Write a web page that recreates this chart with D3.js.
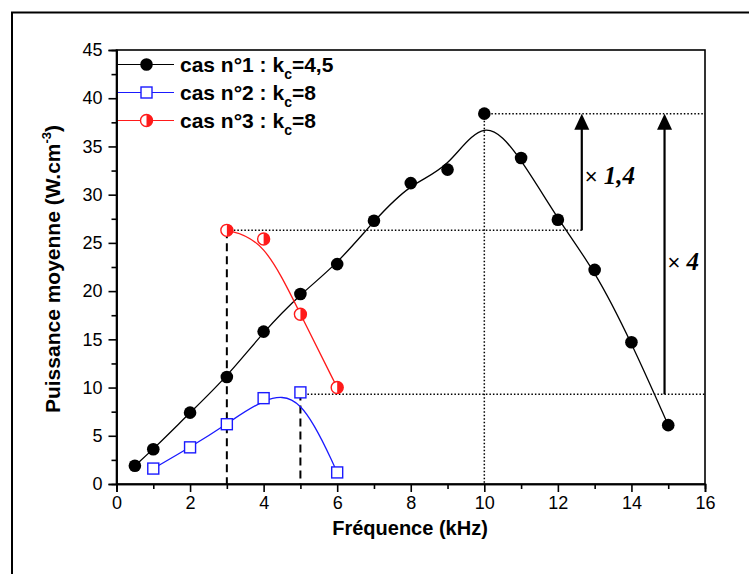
<!DOCTYPE html>
<html><head><meta charset="utf-8">
<script src="https://cdn.jsdelivr.net/npm/d3@7"></script>
<style>body{margin:0;background:#fff}svg{display:block}</style>
</head><body><div id="c"></div>
<script>
// Data
const x1 = [0.5,1,2,3,4,5,6,7,8,9,10,11,12,13,14,15];
const y1 = [1.9,3.6,7.4,11.1,15.8,19.7,22.8,27.3,31.2,32.6,38.4,33.8,27.4,22.2,14.7,6.1];
const x2 = [1,2,3,4,5,6];
const y2 = [1.6,3.8,6.2,8.9,9.5,1.2];
const x3 = [3,4,5,6];
const y3 = [26.3,25.4,17.6,10.0];
const seriesNames = ["cas n°1 : k","cas n°2 : k","cas n°3 : k"];
const seriesSuffix = ["=4,5","=8","=8"];
const xTicks = [0,2,4,6,8,10,12,14,16];
const yTicks = [0,5,10,15,20,25,30,35,40,45];
const refMax = 38.4, refMid = 26.3, refLow = 9.3;
const arrowX1 = 12.65, arrowX2 = 14.9;

const W=749,H=574;
const L=116.5,R=705,T=50,B=484;
const svg=d3.select("#c").append("svg").attr("width",W).attr("height",H);
const x=d3.scaleLinear().domain([0,16]).range([L,R]);
const y=d3.scaleLinear().domain([0,45]).range([B,T]);

// outer border (top & left)
svg.append("path").attr("d",`M12,574 L12,12.5 L749,12.5`).attr("fill","none").attr("stroke","#000").attr("stroke-width",2);

// frame
svg.append("rect").attr("x",L).attr("y",T).attr("width",R-L).attr("height",B-T).attr("fill","none").attr("stroke","#000").attr("stroke-width",1.6);

// axes
const font="Liberation Sans, Arial, sans-serif";
const xa=svg.append("g").attr("transform",`translate(0,${B})`).call(d3.axisBottom(x).tickValues(xTicks).tickSize(8).tickFormat(d3.format("d")));
const xm=svg.append("g").attr("transform",`translate(0,${B})`).call(d3.axisBottom(x).tickValues(d3.range(1,16,2)).tickSize(5).tickFormat(""));
const ya=svg.append("g").attr("transform",`translate(${L},0)`).call(d3.axisLeft(y).tickValues(yTicks).tickSize(8).tickFormat(d3.format("d")));
const ym=svg.append("g").attr("transform",`translate(${L},0)`).call(d3.axisLeft(y).tickValues(d3.range(2.5,45,5)).tickSize(5).tickFormat(""));
[xa,xm,ya,ym].forEach(g=>{g.select(".domain").attr("stroke","#000").attr("stroke-width",1.6);g.selectAll(".tick line").attr("stroke","#000").attr("stroke-width",1.6);});
xa.selectAll("text").attr("font-family",font).attr("font-size",18).attr("fill","#000").attr("y",12).attr("dy","0.71em");
ya.selectAll("text").attr("font-family",font).attr("font-size",18).attr("fill","#000").attr("x",-14);

// axis titles
svg.append("text").attr("x",410).attr("y",535).attr("text-anchor","middle").attr("font-family",font).attr("font-weight","bold").attr("font-size",20).text("Fréquence (kHz)");
const yl=svg.append("text").attr("transform",`translate(60,${(T+B)/2+2}) rotate(-90)`).attr("text-anchor","middle").attr("font-family",font).attr("font-weight","bold").attr("font-size",21);
yl.append("tspan").text("Puissance moyenne (W.cm");
yl.append("tspan").attr("font-size",13).attr("dy",-9).text("-3");
yl.append("tspan").attr("dy",9).text(")");

// reference lines
const dotted=(x0,y0,x1_,y1_)=>svg.append("line").attr("x1",x(x0)).attr("y1",y(y0)).attr("x2",x(x1_)).attr("y2",y(y1_)).attr("stroke","#000").attr("stroke-width",1.5).attr("stroke-dasharray","1.5,2");
dotted(10,refMax,16,refMax);
dotted(10,refMax,10,0);
dotted(3,refMid,arrowX1,refMid);
dotted(5,refLow,16,refLow);
const dashed=(xv,yv)=>svg.append("line").attr("x1",x(xv)).attr("y1",y(yv)).attr("x2",x(xv)).attr("y2",y(0)).attr("stroke","#000").attr("stroke-width",2).attr("stroke-dasharray","8,5");
dashed(3,y3[0]);
dashed(5,y2[4]);

// arrows
function arrow(xv,yFrom,yTo){
  const px=x(xv),top=y(yTo),bot=y(yFrom);
  svg.append("line").attr("x1",px).attr("x2",px).attr("y1",bot).attr("y2",top+12).attr("stroke","#000").attr("stroke-width",2.2);
  svg.append("path").attr("d",`M${px},${top} L${px-7.5},${top+16} L${px+7.5},${top+16} Z`).attr("fill","#000");
}
arrow(arrowX1,refMid,refMax);
arrow(arrowX2,refLow,refMax);
function mult(xv,yv,num){
  const t=svg.append("text").attr("x",x(xv)+3).attr("y",y(yv));
  t.append("tspan").attr("font-family",font).attr("font-size",22).text("× ");
  t.append("tspan").attr("font-family","Liberation Serif, Times New Roman, serif").attr("font-style","italic").attr("font-weight","bold").attr("font-size",25).text(num);
}
mult(arrowX1,31.1,"1,4");
mult(arrowX2,22.2,"4");

// curves
const line=(xs,ys)=>d3.line().x((d,i)=>x(xs[i])).y(d=>y(d)).curve(d3.curveBasis)(ys);
svg.append("path").attr("d",line(x1,y1)).attr("fill","none").attr("stroke","#000").attr("stroke-width",1.3);
svg.append("path").attr("d",line(x2,y2)).attr("fill","none").attr("stroke","#1a1aff").attr("stroke-width",1.3);
svg.append("path").attr("d",line(x3,y3)).attr("fill","none").attr("stroke","#ff1a1a").attr("stroke-width",1.3);

// markers
function circ(g,cx,cy){g.append("circle").attr("cx",cx).attr("cy",cy).attr("r",6.3).attr("fill","#000");}
function sq(g,cx,cy){g.append("rect").attr("x",cx-5.5).attr("y",cy-5.5).attr("width",11).attr("height",11).attr("fill","#fff").attr("stroke","#1a1aff").attr("stroke-width",1.4);}
function half(g,cx,cy){
  const r=6;
  g.append("circle").attr("cx",cx).attr("cy",cy).attr("r",r).attr("fill","#fff").attr("stroke","#ff1a1a").attr("stroke-width",1.4);
  g.append("path").attr("d",`M${cx},${cy-r} A${r},${r} 0 0 1 ${cx},${cy+r} Z`).attr("fill","#ff1a1a");
}
const mk=svg.append("g");
y1.forEach((v,i)=>circ(mk,x(x1[i]),y(v)));
y2.forEach((v,i)=>sq(mk,x(x2[i]),y(v)));
y3.forEach((v,i)=>half(mk,x(x3[i]),y(v)));

// legend
const legY=[64.5,92.5,120.5];
const legCol=["#000","#1a1aff","#ff1a1a"];
const markers=[circ,sq,half];
legY.forEach((ly,i)=>{
  svg.append("line").attr("x1",118).attr("x2",174).attr("y1",ly).attr("y2",ly).attr("stroke",legCol[i]).attr("stroke-width",1.2);
  markers[i](svg,146.5,ly);
  const t=svg.append("text").attr("x",180).attr("y",ly+7).attr("font-family",font).attr("font-weight","bold").attr("font-size",21);
  t.append("tspan").text(seriesNames[i]);
  t.append("tspan").attr("font-size",14).attr("dy",7).text("c");
  t.append("tspan").attr("dy",-7).text(seriesSuffix[i]);
});
</script></body></html>
